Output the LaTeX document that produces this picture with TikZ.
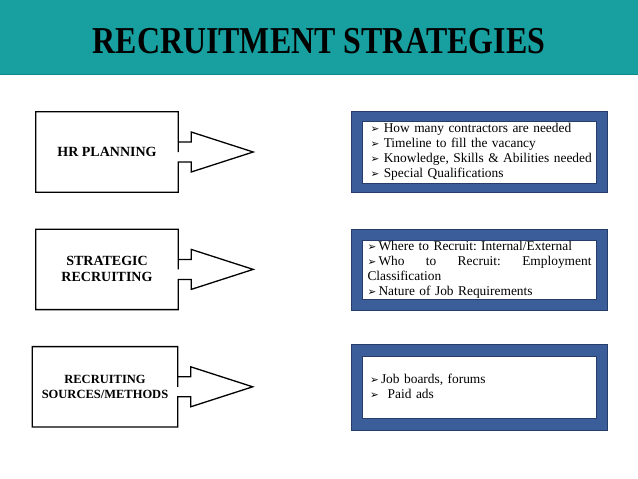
\documentclass[tikz,border=0pt]{standalone}
\usepackage{fontspec}
\setmainfont{Liberation Serif}
\newfontfamily\dingfont{DejaVu Sans}
\newfontfamily\titlefont{Liberation Serif}[FakeStretch=0.84]
\usetikzlibrary{calc, positioning}
\definecolor{bandteal}{RGB}{24,160,160}
\definecolor{bandedge}{RGB}{14,136,136}
\definecolor{listblue}{RGB}{59,94,155}
\definecolor{listedge}{RGB}{38,60,105}
\newcommand{\listmark}{{\dingfont\fontsize{10.5}{10.5}\selectfont ➢}}
% outline of a box with its arrow to the right
\newcommand{\arrowline}[1]{%
  \draw[outline] (#1.east) -- (#1.north east) -- (#1.north west) -- (#1.south west)
    -- (#1.south east) -- ($(#1.east)+(0,10)$) -- ++(13,0) -- ++(0,10)
    -- ($(#1.east)+(75,0)$) -- ($(#1.east)+(13,-20)$) -- ++(0,10)
    -- ($(#1.east)+(0,-10)$) -- cycle;}
\tikzset{
  stage/.style={
    minimum width=142pt,
    minimum height=80pt,
    inner sep=0pt,
    align=center,
    font=\bfseries\fontsize{14}{16}\selectfont
  },
  outline/.style={
    draw=black,
    line width=1.3pt,
    line join=miter
  },
  listframe/.style={
    fill=listblue,
    draw=listedge,
    line width=0.6pt,
    minimum width=256pt,
    minimum height=81pt,
    inner sep=0pt
  },
  listbox/.style={
    fill=white,
    draw=listedge,
    line width=0.5pt,
    minimum width=234pt,
    minimum height=62pt,
    text width=228pt,
    inner xsep=3pt,
    inner ysep=0pt,
    align=left,
    font=\frenchspacing\fontsize{13.4}{15}\selectfont
  }
}
\begin{document}
\begin{tikzpicture}[x=1pt, y=-1pt]
\useasboundingbox (0,0) rectangle (638,479);

% --- Bandeau titre ---
\fill[bandteal] (0,0) rectangle (638,75);
\draw[bandedge, line width=1.5pt] (0,74.5) -- (638,74.5);
\node[font=\titlefont\bfseries\fontsize{38}{40}\selectfont] (title) at (319,41) {RECRUITMENT STRATEGIES};

% --- Etapes a gauche ---
\node[stage] (hr) at (107,152) {HR PLANNING};
\node[stage, below=37pt of hr] (strat) {STRATEGIC\\RECRUITING};
\node[stage, below=37pt of strat, xshift=-2pt, minimum width=145pt,
      font=\bfseries\fontsize{12.5}{15}\selectfont] (src) {RECRUITING\\SOURCES/METHODS};

\arrowline{hr}
\arrowline{strat}
\arrowline{src}

% --- Listes a droite ---
\node[listframe, right=173pt of hr] (planframe) {};
\node[listbox] (planbox) at (planframe) {%
  \hspace*{5pt}\listmark\ How many contractors are needed\\
  \hspace*{5pt}\listmark\ Timeline to fill the vacancy\\
  \hspace*{5pt}\listmark\ Knowledge, Skills \& Abilities needed\\
  \hspace*{5pt}\listmark\ Special Qualifications};

\node[listframe, right=173pt of strat] (stratframe) {};
\node[listbox, minimum height=59pt] (stratbox) at (stratframe) {%
  \hspace*{2pt}\listmark\,Where to Recruit: Internal/External\\
  \makebox[226pt][l]{\hspace*{2pt}\listmark\,Who\hfill to\hfill Recruit:\hfill Employment}\\
  \hspace*{2pt}Classification\\
  \hspace*{2pt}\listmark\,Nature of Job Requirements};

\node[listframe, minimum height=86pt, right=173pt of src] (srcframe) {};
\node[listbox] (srcbox) at (srcframe) {%
  \hspace*{5pt}\listmark\,Job boards, forums\\
  \hspace*{5pt}\listmark\ \ Paid ads};

\end{tikzpicture}
\end{document}
